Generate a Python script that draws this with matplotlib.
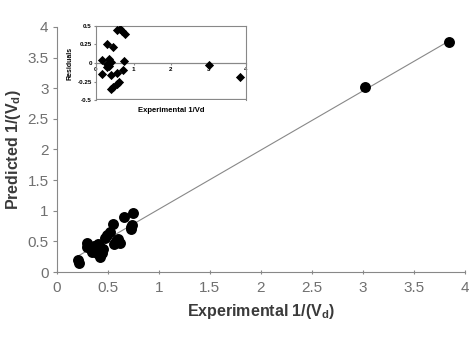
import matplotlib
matplotlib.use("Agg")
import matplotlib.pyplot as plt
import numpy as np

plt.rcParams['font.family'] = ['Liberation Sans', 'DejaVu Sans']

# Datos principales: experimental vs predicho
exp_x = [0.21, 0.22, 0.30, 0.30, 0.34, 0.37, 0.39, 0.42, 0.44, 0.42, 0.36, 0.33,
         0.40, 0.45, 0.49, 0.52, 0.55, 0.58, 0.60, 0.62, 0.66, 0.73, 0.74, 0.73,
         0.75, 0.56, 0.47, 3.02, 3.84]
pred_y = [0.19, 0.15, 0.41, 0.47, 0.33, 0.36, 0.31, 0.41, 0.31, 0.25, 0.42, 0.38,
          0.46, 0.38, 0.60, 0.66, 0.78, 0.50, 0.54, 0.48, 0.89, 0.74, 0.77, 0.70,
          0.97, 0.46, 0.55, 3.02, 3.75]

# Recta de ajuste
fit_a, fit_b = 0.06, 0.965
fit_x = [0.2, 3.84]

# Residuos (inset)
res_x = [0.55, 0.64, 0.69, 0.78, 0.30, 0.46, 0.17, 0.35, 0.39, 0.30, 0.35, 0.28,
         0.75, 0.17, 0.39, 0.57, 0.71, 0.60, 0.55, 0.44, 0.39, 3.0, 3.84]
res_y = [0.45, 0.46, 0.43, 0.39, 0.25, 0.22, 0.04, 0.05, 0.01, -0.01, -0.04, -0.06,
         0.03, -0.15, -0.16, -0.13, -0.09, -0.25, -0.28, -0.32, -0.35, -0.03, -0.19]

fig = plt.figure(figsize=(4.74, 3.4), dpi=100)
ax = fig.add_axes([0.120, 0.2, 0.861, 0.721])

gris = '#888888'
fx = np.array(fit_x)
ax.plot(fx, fit_a + fit_b * fx, color=gris, lw=0.8, zorder=1)
ax.scatter(exp_x, pred_y, s=62, color='black', zorder=2, linewidths=0)

ax.set_xlim(0, 4)
ax.set_ylim(0, 4)
ax.set_xticks(np.arange(0, 4.01, 0.5))
ax.set_yticks(np.arange(0, 4.01, 0.5))
ax.set_xticklabels(['0', '0.5', '1', '1.5', '2', '2.5', '3', '3.5', '4'])
ax.set_yticklabels(['0', '0.5', '1', '1.5', '2', '2.5', '3', '3.5', '4'])
for s in ['top', 'right']:
    ax.spines[s].set_visible(False)
for s in ['left', 'bottom']:
    ax.spines[s].set_color(gris)
ax.tick_params(axis='both', colors=gris, labelcolor='#707070', labelsize=11, length=3)
ax.tick_params(axis='x', direction='inout', pad=5)
ax.tick_params(axis='y', pad=3)
ax.set_xlabel('Experimental 1/(V$_\\mathregular{d}$)', fontsize=11.5, fontweight='bold',
              color='#3a3a3a', labelpad=5)
ax.set_ylabel('Predicted 1/(V$_\\mathregular{d}$)', fontsize=11.5, fontweight='bold',
              color='#3a3a3a', labelpad=3)

# Inset de residuos
ins = fig.add_axes([96 / 474, 1 - 100 / 340, 150 / 474, 74 / 340])
ins.axhline(0, color=gris, lw=0.8)
ins.scatter(res_x, res_y, s=22, marker='D', color='black', linewidths=0, zorder=3)
ins.set_xlim(0, 4)
ins.set_ylim(-0.5, 0.5)
ins.set_xticks([0, 1, 2, 3, 4])
ins.set_yticks([-0.5, -0.25, 0, 0.25, 0.5])
ins.set_yticklabels(['-0.5', '-0.25', '0', '0.25', '0.5'])
ins.spines['bottom'].set_position(('data', 0))
ins.spines['bottom'].set_color(gris)
for s in ['top', 'right', 'left']:
    ins.spines[s].set_color(gris)
ins.axhline(-0.5, color=gris, lw=1.6)
ins.tick_params(labelsize=4.5, length=1.5, colors=gris, labelcolor='black', pad=1.5)
for t in ins.get_xticklabels() + ins.get_yticklabels():
    t.set_fontweight('bold')
ins.set_ylabel('Residuals', fontsize=5, fontweight='bold', labelpad=3)
ins.text(0.5, -0.1, 'Experimental 1/Vd', transform=ins.transAxes, ha='center',
         va='top', fontsize=5.5, fontweight='bold')

fig.savefig('out.png', dpi=100)
